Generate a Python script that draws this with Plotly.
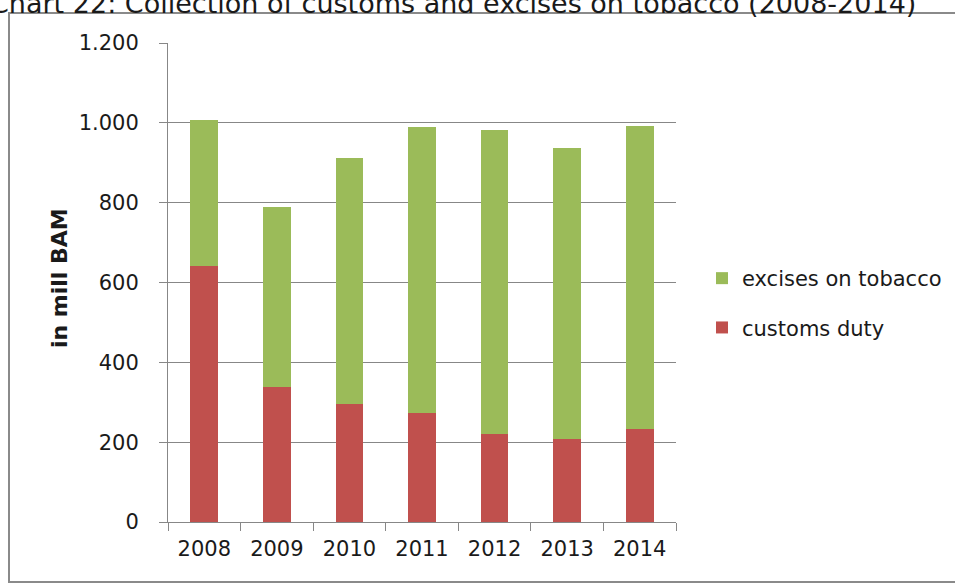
import plotly.graph_objects as go

# Tobacco revenue collection, in million BAM
years = ["2008", "2009", "2010", "2011", "2012", "2013", "2014"]
customs_duty = [641, 338, 295, 272, 221, 207, 233]
excises_tobacco = [367, 452, 616, 717, 761, 730, 759]

GREEN = "#9BBB59"
RED = "#C0504D"
GRID = "#878787"
FONT = "DejaVu Sans"
INK = "#1a1a1a"

# plot-area geometry in pixels
W, H = 955, 583
L, R, T, B = 168, 676, 43, 522
pw, ph = R - L, B - T


def px_x(p):
    return (p - L) / pw


def px_y(p):
    return (B - p) / ph


fig = go.Figure()
fig.add_trace(go.Bar(
    x=years, y=customs_duty, name="customs duty",
    marker=dict(color=RED, line=dict(width=0)),
    legendgroup="c", legendrank=2,
))
fig.add_trace(go.Bar(
    x=years, y=excises_tobacco, name="excises on tobacco",
    marker=dict(color=GREEN, line=dict(width=0)),
    legendgroup="e", legendrank=1,
))

fig.update_layout(
    width=W, height=H,
    margin=dict(l=L, r=W - R, t=T, b=H - B, autoexpand=False),
    barmode="stack",
    bargap=0.618,
    separators=",.",
    plot_bgcolor="white",
    paper_bgcolor="white",
    font=dict(family=FONT, size=21, color=INK),
    showlegend=True,
    legend=dict(
        xref="container", yref="container",
        x=702 / W, y=1 - 258 / H, xanchor="left", yanchor="top",
        font=dict(family=FONT, size=21, color=INK),
        tracegroupgap=19, bgcolor="rgba(0,0,0,0)",
    ),
    xaxis=dict(
        type="category",
        showline=True, linecolor=GRID, linewidth=1,
        ticks="outside", tickson="boundaries", ticklen=8, tickcolor=GRID,
        showgrid=False,
        ticklabelstandoff=8,
        tickfont=dict(family=FONT, size=21, color=INK),
    ),
    yaxis=dict(
        range=[0, 1200], dtick=200, tick0=0, tickformat=",d",
        showline=True, linecolor=GRID, linewidth=1,
        ticks="outside", ticklen=8, tickcolor=GRID,
        showgrid=True, gridcolor=GRID, gridwidth=1,
        zeroline=False,
        ticklabelstandoff=16,
        tickfont=dict(family=FONT, size=21, color=INK),
    ),
)

# y-axis title
fig.add_annotation(
    text="<b>in mill BAM</b>", textangle=-90,
    xref="paper", yref="paper", x=px_x(59), y=px_y(278),
    xanchor="center", yanchor="middle", showarrow=False,
    font=dict(family=FONT, size=22, color=INK),
)

# chart caption running off the top edge
fig.add_annotation(
    text="Chart 22: Collection of customs and excises on tobacco (2008-2014)",
    xref="paper", yref="paper", x=px_x(-12), y=px_y(3),
    xanchor="left", yanchor="middle", showarrow=False,
    font=dict(family=FONT, size=27, color=INK),
)

# frame around the chart
fig.add_shape(
    type="rect", xref="paper", yref="paper",
    x0=px_x(9), x1=px_x(975), y0=px_y(582), y1=px_y(13),
    line=dict(color="#8a8a8a", width=2), fillcolor="rgba(0,0,0,0)",
    layer="below",
)

fig.write_html("out.html")
